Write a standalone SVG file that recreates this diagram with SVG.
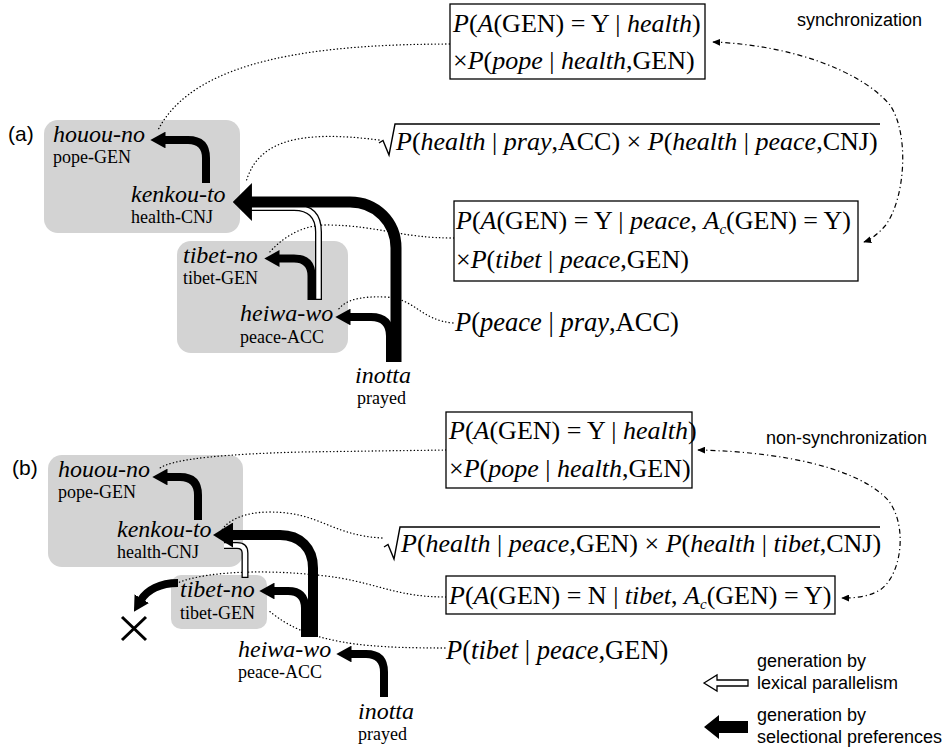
<svg xmlns="http://www.w3.org/2000/svg" width="949" height="747" viewBox="0 0 949 747">
<style>
.w{font-family:"Liberation Serif",serif;font-style:italic;font-size:24px;fill:#000}
.g{font-family:"Liberation Serif",serif;font-size:18px;fill:#000}
.f{font-family:"Liberation Serif",serif;font-size:26px;fill:#000}
.i{font-style:italic}
.sub{font-size:15px;font-style:italic}
.s{font-family:"Liberation Sans",Arial,sans-serif;font-size:18px;fill:#000}
.lab{font-family:"Liberation Sans",Arial,sans-serif;font-size:21px;fill:#000}
.grp{fill:#d3d3d3}
.box{fill:#fff;stroke:#000;stroke-width:1.3}
.rad{fill:none;stroke:#000;stroke-width:1.4;stroke-linejoin:miter}
.dot{fill:none;stroke:#000;stroke-width:1.3;stroke-dasharray:0.3 3.2;stroke-linecap:round}
.dd{fill:none;stroke:#000;stroke-width:1.2;stroke-dasharray:5 3 1.2 3}
.sp{fill:none;stroke:#000;stroke-width:8}
.hol{fill:none;stroke:#000;stroke-width:7}
.holi{fill:none;stroke:#fff;stroke-width:4.4}
</style>
<defs>
<marker id="ah" viewBox="0 0 10 10" refX="1" refY="5" markerWidth="1.9" markerHeight="2.1" orient="auto" markerUnits="strokeWidth" preserveAspectRatio="none"><path d="M0,0 L10,5 L0,10 z" fill="#000"/></marker>
<marker id="ahL" viewBox="0 0 10 10" refX="1" refY="5" markerWidth="1.75" markerHeight="3.45" orient="auto" markerUnits="strokeWidth" preserveAspectRatio="none"><path d="M0,0 L10,5 L0,10 z" fill="#000"/></marker>
<marker id="ahM" viewBox="0 0 10 10" refX="1" refY="5" markerWidth="2" markerHeight="2.5" orient="auto" markerUnits="strokeWidth" preserveAspectRatio="none"><path d="M0,0 L10,5 L0,10 z" fill="#000"/></marker>
<marker id="ahS" viewBox="0 0 10 10" refX="9" refY="5" markerWidth="8" markerHeight="7" orient="auto-start-reverse" markerUnits="userSpaceOnUse" preserveAspectRatio="none"><path d="M0,0 L10,5 L0,10 z" fill="#000"/></marker>
</defs>
<rect width="949" height="747" fill="#fff"/>

<!-- gray coordination regions -->
<g id="a-region1"><rect class="grp" x="44" y="120" width="196" height="113" rx="14"/></g>
<g id="a-region2"><rect class="grp" x="177" y="241" width="171" height="112" rx="14"/></g>
<g id="b-region1"><rect class="grp" x="48" y="455" width="195" height="112" rx="14"/></g>
<g id="b-region2"><rect class="grp" x="171" y="575" width="96" height="54" rx="10"/></g>

<!-- labels -->
<g id="label-a"><text class="lab" x="8" y="141">(a)</text></g>
<g id="label-b"><text class="lab" x="12" y="475">(b)</text></g>

<!-- connectors -->
<g id="connectors">
  <!-- (a) dotted -->
  <path class="dot" d="M453,44 C320,44 195,58 158,130"/>
  <path class="dot" d="M379,140 C300,130 258,140 246,182"/>
  <path class="dot" d="M454,238 C400,238 380,226 330,225 C300,224 280,240 268,254"/>
  <path class="dot" d="M453,323 C420,320 415,298 385,297 C360,296 345,300 338,310"/>
  <!-- (a) dash-dot synchronization -->
  <path class="dd" d="M713,42 C790,45 860,70 890,105 C910,135 905,200 885,226 C878,234 870,240 864,242" marker-start="url(#ahS)" marker-end="url(#ahS)"/>
  <!-- (a) hollow: heiwa-wo -> kenkou-to (lexical parallelism) -->
  <path class="hol" d="M318.5,300 L318.5,232 Q318.5,207.5 294,207.5 L246,207.5"/>
  <path class="holi" d="M318.5,298.8 L318.5,232 Q318.5,207.5 294,207.5 L246,207.5"/>
  <!-- (a) black arrows -->
  <path class="sp" d="M206,183 L206,158 Q206,140 188,140 L164,140" marker-end="url(#ah)"/>
  <path class="sp" d="M311.5,300 L311.5,276 Q311.5,258.5 294,258.5 L278,258.5" marker-end="url(#ah)"/>
  <path class="sp" d="M390,362 L390,336 Q390,317 371,317 L349,317" marker-end="url(#ah)"/>
  <path class="sp" style="stroke-width:11" d="M396,362 L396,248 C396,222 376,202 350,202 L250,202" marker-end="url(#ahL)"/>

  <!-- (b) dotted -->
  <path class="dot" d="M446,450 L300,452 C230,454 175,458 160,468"/>
  <path class="dot" d="M382,538 C330,535 320,512 270,512 C245,512 228,520 222,530"/>
  <path class="dot" d="M446,597 C400,597 380,585 340,578 C290,570 210,568 175,584"/>
  <path class="dot" d="M445,648 C380,648 350,645 320,637 C295,630 280,620 268,610"/>
  <!-- (b) dash-dot non-synchronization -->
  <path class="dd" d="M698,450 C790,452 860,470 888,500 C908,525 902,575 880,590 C868,597 855,598 842,598" marker-start="url(#ahS)" marker-end="url(#ahS)"/>
  <!-- (b) hollow: tibet-no -> kenkou-to -->
  <path class="hol" d="M245,578 L245,553 Q245,545.5 237,545.5 L224,545.5"/>
  <path class="holi" d="M245,576.8 L245,553 Q245,545.5 237,545.5 L224,545.5"/>
  <!-- (b) black arrows -->
  <path class="sp" d="M198,520 L198,495 Q198,477 180,477 L166,477" marker-end="url(#ah)"/>
  <path class="sp" d="M384,697 L384,672 Q384,654 366,654 L350,654" marker-end="url(#ah)"/>
  <path class="sp" d="M305,637 L305,608 Q305,591 288,591 L273,591" marker-end="url(#ah)"/>
  <path class="sp" style="stroke-width:10" d="M313,637 L313,568 C313,548 300,535 280,535 L231,535" marker-end="url(#ahM)"/>
  <path class="sp" d="M178,583 C160,583 147,590 141,600" marker-end="url(#ah)"/>
  <path d="M122,617 L146,640 M146,617 L122,640" stroke="#000" stroke-width="3" fill="none"/>
</g>

<!-- (a) word nodes -->
<g id="a-houou-no"><text class="w" x="53" y="142">houou-no</text><text class="g" x="53" y="163">pope-GEN</text></g>
<g id="a-kenkou-to"><text class="w" x="131" y="202">kenkou-to</text><text class="g" x="131" y="223">health-CNJ</text></g>
<g id="a-tibet-no"><text class="w" x="183" y="263">tibet-no</text><text class="g" x="183" y="284">tibet-GEN</text></g>
<g id="a-heiwa-wo"><text class="w" x="240" y="321">heiwa-wo</text><text class="g" x="240" y="343">peace-ACC</text></g>
<g id="a-inotta"><text class="w" x="355" y="383">inotta</text><text class="g" x="357" y="404">prayed</text></g>

<!-- (a) probability nodes -->
<g id="a-p1"><rect class="box" x="450" y="4" width="255" height="75"/>
<text class="f" x="453" y="32"><tspan class="i">P</tspan>(<tspan class="i">A</tspan>(GEN) = Y | <tspan class="i">health</tspan>)</text>
<text class="f" x="453" y="69">×<tspan class="i">P</tspan>(<tspan class="i">pope</tspan> | <tspan class="i">health</tspan>,GEN)</text></g>
<g id="a-sync"><text class="s" x="797" y="26">synchronization</text></g>
<g id="a-p2"><path class="rad" d="M379,143 L383,140.5 L389,155 L395,124 L880,124"/>
<text class="f" x="396" y="150"><tspan class="i">P</tspan>(<tspan class="i">health</tspan> | <tspan class="i">pray</tspan>,ACC) × <tspan class="i">P</tspan>(<tspan class="i">health</tspan> | <tspan class="i">peace</tspan>,CNJ)</text></g>
<g id="a-p3"><rect class="box" x="454" y="201" width="404" height="80"/>
<text class="f" x="456" y="229"><tspan class="i">P</tspan>(<tspan class="i">A</tspan>(GEN) = Y | <tspan class="i">peace</tspan>, <tspan class="i">A</tspan><tspan class="sub" dy="5">c</tspan><tspan dy="-5">(GEN) = Y)</tspan></text>
<text class="f" x="456" y="268">×<tspan class="i">P</tspan>(<tspan class="i">tibet</tspan> | <tspan class="i">peace</tspan>,GEN)</text></g>
<g id="a-p4"><text class="f" x="455" y="331" style="font-size:26.5px"><tspan class="i">P</tspan>(<tspan class="i">peace</tspan> | <tspan class="i">pray</tspan>,ACC)</text></g>

<!-- (b) word nodes -->
<g id="b-houou-no"><text class="w" x="58" y="477">houou-no</text><text class="g" x="58" y="498">pope-GEN</text></g>
<g id="b-kenkou-to"><text class="w" x="117" y="537">kenkou-to</text><text class="g" x="117" y="558">health-CNJ</text></g>
<g id="b-tibet-no"><text class="w" x="180" y="597">tibet-no</text><text class="g" x="180" y="619">tibet-GEN</text></g>
<g id="b-heiwa-wo"><text class="w" x="238" y="657">heiwa-wo</text><text class="g" x="238" y="678">peace-ACC</text></g>
<g id="b-inotta"><text class="w" x="358" y="719">inotta</text><text class="g" x="358" y="740">prayed</text></g>

<!-- (b) probability nodes -->
<g id="b-p1"><rect class="box" x="446" y="412" width="246" height="76"/>
<text class="f" x="449" y="439"><tspan class="i">P</tspan>(<tspan class="i">A</tspan>(GEN) = Y | <tspan class="i">health</tspan>)</text>
<text class="f" x="449" y="477">×<tspan class="i">P</tspan>(<tspan class="i">pope</tspan> | <tspan class="i">health</tspan>,GEN)</text></g>
<g id="b-nonsync"><text class="s" x="766" y="444">non-synchronization</text></g>
<g id="b-p2"><path class="rad" d="M384,547 L388,544.5 L394,559 L400,527 L880,527"/>
<text class="f" x="401" y="552"><tspan class="i">P</tspan>(<tspan class="i">health</tspan> | <tspan class="i">peace</tspan>,GEN) × <tspan class="i">P</tspan>(<tspan class="i">health</tspan> | <tspan class="i">tibet</tspan>,CNJ)</text></g>
<g id="b-p3"><rect class="box" x="446" y="576" width="389" height="38"/>
<text class="f" x="449" y="604"><tspan class="i">P</tspan>(<tspan class="i">A</tspan>(GEN) = N | <tspan class="i">tibet</tspan>, <tspan class="i">A</tspan><tspan class="sub" dy="5">c</tspan><tspan dy="-5">(GEN) = Y)</tspan></text></g>
<g id="b-p4"><text class="f" x="446" y="659" style="font-size:26.5px"><tspan class="i">P</tspan>(<tspan class="i">tibet</tspan> | <tspan class="i">peace</tspan>,GEN)</text></g>

<!-- legend -->
<g id="legend-parallelism"><polygon points="704,683 717,675 717,680 748,680 748,686 717,686 717,691" fill="#fff" stroke="#000" stroke-width="1.3"/>
<text class="s" x="757" y="667">generation by</text><text class="s" x="757" y="689">lexical parallelism</text></g>
<g id="legend-selectional"><polygon points="704,727 719,715 719,721 748,721 748,733 719,733 719,739" fill="#000"/>
<text class="s" x="757" y="721">generation by</text><text class="s" x="757" y="743">selectional preferences</text></g>
</svg>
